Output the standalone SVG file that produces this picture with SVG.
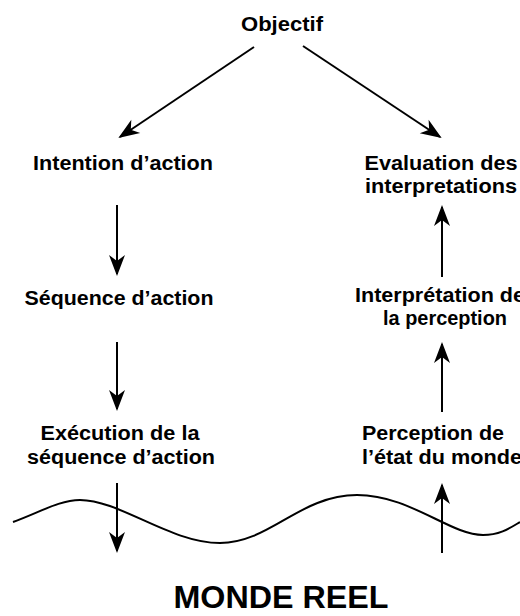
<svg xmlns="http://www.w3.org/2000/svg" width="520" height="616" viewBox="0 0 520 616">
  <style>
    .t { font-family: "Liberation Sans", Arial, Helvetica, sans-serif; font-weight: bold; font-size: 19.5px; fill: #000; text-anchor: middle; }
    .big { font-size: 31px; }
    .c { stroke: #000; stroke-width: 2; fill: none; }
  </style>
  <defs>
    <marker id="ah" markerUnits="userSpaceOnUse" markerWidth="21" markerHeight="16" refX="19" refY="8" orient="auto" overflow="visible">
      <path d="M0,0 L21,8 L0,16 L6,8 Z" fill="#000"/>
    </marker>
  </defs>
  <rect width="520" height="616" fill="#fff"/>

  <g id="connectors">
    <line class="c" x1="254" y1="47" x2="120" y2="137" marker-end="url(#ah)"/>
    <line class="c" x1="303" y1="46" x2="440" y2="137" marker-end="url(#ah)"/>
    <line class="c" x1="117" y1="205" x2="117" y2="274" marker-end="url(#ah)"/>
    <line class="c" x1="117" y1="342" x2="117" y2="409" marker-end="url(#ah)"/>
    <line class="c" x1="117" y1="483" x2="117" y2="551" marker-end="url(#ah)"/>
    <line class="c" x1="442" y1="277" x2="442" y2="207" marker-end="url(#ah)"/>
    <line class="c" x1="442" y1="412" x2="442" y2="344" marker-end="url(#ah)"/>
    <line class="c" x1="442" y1="553" x2="442" y2="485" marker-end="url(#ah)"/>
  </g>

  <path id="wave" class="c" d="M13,522 C40,512 60,500 80,500 C120,500 170,543 220,543 C270,543 300,495 357,495 C410,495 450,535 483,535 C500,535 510,528 520,522"/>

  <g id="objectif"><text class="t" x="282" y="31" textLength="82" lengthAdjust="spacingAndGlyphs">Objectif</text></g>
  <g id="intention"><text class="t" x="123" y="170" textLength="180" lengthAdjust="spacingAndGlyphs">Intention d’action</text></g>
  <g id="sequence"><text class="t" x="119" y="305" textLength="189" lengthAdjust="spacingAndGlyphs">Séquence d’action</text></g>
  <g id="execution">
    <text class="t" x="120" y="440" textLength="159" lengthAdjust="spacingAndGlyphs">Exécution de la</text>
    <text class="t" x="121" y="464" textLength="188" lengthAdjust="spacingAndGlyphs">séquence d’action</text>
  </g>
  <g id="evaluation">
    <text class="t" x="441" y="170" textLength="153" lengthAdjust="spacingAndGlyphs">Evaluation des</text>
    <text class="t" x="441" y="193" textLength="152" lengthAdjust="spacingAndGlyphs">interpretations</text>
  </g>
  <g id="interpretation">
    <text class="t" x="440" y="302" textLength="170" lengthAdjust="spacingAndGlyphs">Interprétation de</text>
    <text class="t" x="445" y="325" textLength="124" lengthAdjust="spacingAndGlyphs">la perception</text>
  </g>
  <g id="perception">
    <text class="t" x="433" y="440" textLength="142" lengthAdjust="spacingAndGlyphs">Perception de</text>
    <text class="t" x="442" y="464" textLength="160" lengthAdjust="spacingAndGlyphs">l’état du monde</text>
  </g>
  <g id="monde"><text class="t big" x="281" y="608" textLength="215" lengthAdjust="spacingAndGlyphs">MONDE REEL</text></g>
</svg>
